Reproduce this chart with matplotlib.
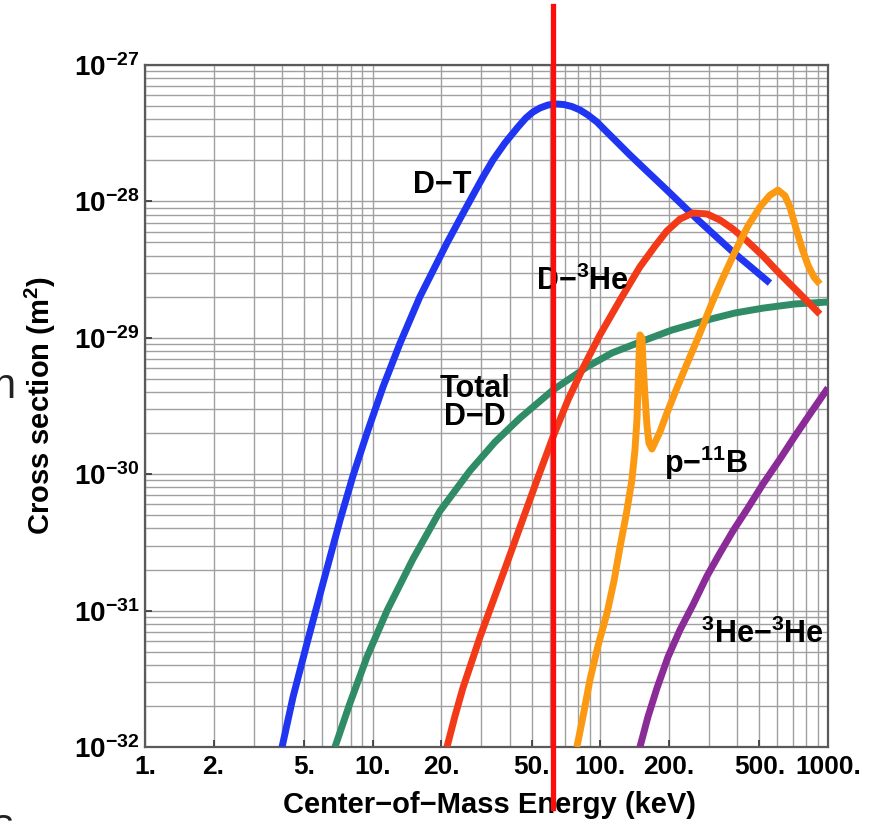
import matplotlib
matplotlib.use('Agg')
import matplotlib.pyplot as plt
from matplotlib.ticker import FixedLocator, FixedFormatter, NullFormatter

# cross sections: energy in keV, sigma in m^2
dt_energy = [4.00, 4.47, 5.15, 5.99, 7.19, 8.19, 9.44, 11.1, 13.2, 16.1, 21.2, 24.17, 27.57,
             30.51, 33.76, 38.11, 43.46, 47.12, 50.58, 54.30, 58.88, 63.83, 69.22, 75.03,
             81.36, 88.22, 96.66, 105.8, 115.9, 134.9, 161.8, 196.1, 265.6, 382.2, 555.7]
dt_sigma = [1.0e-32, 2.33e-32, 5.78e-32, 1.49e-31, 4.61e-31, 9.70e-31, 2.00e-30, 4.36e-30,
            9.16e-30, 1.99e-29, 4.95e-29, 7.43e-29, 1.11e-28, 1.51e-28, 2.01e-28, 2.68e-28,
            3.51e-28, 4.09e-28, 4.52e-28, 4.84e-28, 5.09e-28, 5.18e-28, 5.13e-28, 4.96e-28,
            4.68e-28, 4.30e-28, 3.82e-28, 3.28e-28, 2.82e-28, 2.19e-28, 1.64e-28, 1.21e-28,
            7.43e-29, 4.26e-29, 2.52e-29]

dd_energy = [6.83, 7.95, 9.44, 11.6, 15.03, 19.75, 26.75, 34.44, 44.36, 61.94, 87.3, 112.4,
             149.3, 206.3, 294, 390, 518, 715.5, 1000]
dd_sigma = [1.0e-32, 2.10e-32, 4.57e-32, 1.01e-31, 2.39e-31, 5.37e-31, 1.06e-30, 1.72e-30,
            2.58e-30, 4.14e-30, 6.11e-30, 7.74e-30, 9.31e-30, 1.14e-29, 1.35e-29, 1.52e-29,
            1.65e-29, 1.77e-29, 1.83e-29]

dhe3_energy = [21.2, 23.0, 24.9, 29.6, 38.9, 52.7, 61.9, 72.1, 83.9, 99.6, 122, 149, 174, 196,
               224, 255, 294, 335, 382, 441, 518, 615, 753, 921]
dhe3_sigma = [1.0e-32, 1.69e-32, 2.70e-32, 6.40e-32, 2.23e-31, 9.06e-31, 1.87e-30, 3.50e-30,
              6.01e-30, 1.05e-29, 1.89e-29, 3.30e-29, 4.71e-29, 6.07e-29, 7.43e-29, 8.22e-29,
              8.09e-29, 7.31e-29, 6.28e-29, 5.13e-29, 3.98e-29, 2.94e-29, 2.10e-29, 1.49e-29]

pb11_energy = [78.9, 84.7, 90.0, 97.6, 107, 115, 122, 130, 137.6, 141.9, 144.8, 146.3, 147.7,
               149.3, 152.3, 153.8, 157.0, 160.2, 163.5, 168.5, 182.7, 196.1, 217.0, 240.1,
               273.8, 309.2, 342.0, 390.0, 444.8, 502.3, 555.7, 602.5, 646.9, 680.3, 722.8,
               768.0, 816.0, 867.1, 921.2]
pb11_sigma = [1.0e-32, 1.81e-32, 3.10e-32, 5.50e-32, 9.59e-32, 1.67e-31, 2.92e-31, 5.10e-31,
              9.06e-31, 1.50e-30, 2.50e-30, 4.14e-30, 6.87e-30, 1.05e-29, 9.97e-30, 6.87e-30,
              3.81e-30, 2.30e-30, 1.69e-30, 1.53e-30, 2.04e-30, 2.81e-30, 4.29e-30, 6.43e-30,
              1.08e-29, 1.80e-29, 2.65e-29, 4.26e-29, 6.60e-29, 9.10e-29, 1.11e-28, 1.21e-28,
              1.10e-28, 9.10e-29, 6.38e-29, 4.55e-29, 3.42e-29, 2.79e-29, 2.48e-29]

he3he3_energy = [149.3, 161.8, 177.3, 198.2, 223.7, 255.1, 293.9, 335.2, 382.2, 444.8, 517.8,
                 615.0, 715.5, 849.9, 1000]
he3he3_sigma = [1.0e-32, 1.66e-32, 2.70e-32, 4.57e-32, 7.21e-32, 1.10e-31, 1.79e-31, 2.64e-31,
                3.83e-31, 5.65e-31, 8.47e-31, 1.29e-30, 1.90e-30, 2.90e-30, 4.29e-30]

marker_energy = 61.9

x_ticks = [1, 2, 5, 10, 20, 50, 100, 200, 500, 1000]
x_tick_labels = ['1.', '2.', '5.', '10.', '20.', '50.', '100.', '200.', '500.', '1000.']
y_ticks = [1e-32, 1e-31, 1e-30, 1e-29, 1e-28, 1e-27]
y_tick_labels = ['$10^{-32}$', '$10^{-31}$', '$10^{-30}$', '$10^{-29}$', '$10^{-28}$', '$10^{-27}$']

plt.rcParams['font.family'] = ['Liberation Sans', 'DejaVu Sans']
plt.rcParams['font.weight'] = 'bold'
plt.rcParams['axes.labelweight'] = 'bold'
plt.rcParams['mathtext.fontset'] = 'custom'
plt.rcParams['mathtext.bf'] = 'Liberation Sans:bold'
plt.rcParams['mathtext.rm'] = 'Liberation Sans:bold'
plt.rcParams['mathtext.default'] = 'bf'

fig = plt.figure(figsize=(8.84, 8.21), dpi=100)
ax = fig.add_axes([145 / 884, 1 - 747 / 821, 683 / 884, 682 / 821])

lw = 5
ax.plot(dt_energy, dt_sigma, color='#1f35f2', lw=lw, solid_capstyle='butt', zorder=3)
ax.plot(dd_energy, dd_sigma, color='#2f8c66', lw=lw, solid_capstyle='butt', zorder=3)
ax.plot(dhe3_energy, dhe3_sigma, color='#f23a18', lw=lw, solid_capstyle='butt', zorder=3)
ax.plot(pb11_energy, pb11_sigma, color='#fb9a12', lw=lw, solid_capstyle='butt', zorder=3)
ax.plot(he3he3_energy, he3he3_sigma, color='#8b2b98', lw=lw, solid_capstyle='butt', zorder=3)

ax.set_xscale('log')
ax.set_yscale('log')
ax.set_xlim(1, 1000)
ax.set_ylim(1e-32, 1e-27)

ax.xaxis.set_major_locator(FixedLocator(x_ticks))
ax.xaxis.set_major_formatter(FixedFormatter(x_tick_labels))
ax.xaxis.set_minor_formatter(NullFormatter())
ax.yaxis.set_major_locator(FixedLocator(y_ticks))
ax.yaxis.set_major_formatter(FixedFormatter(y_tick_labels))
ax.yaxis.set_minor_formatter(NullFormatter())

ax.grid(which='both', color='#a0a0a0', lw=1.0)
ax.tick_params(which='major', direction='in', length=5, width=1.2, color='#333333')
ax.tick_params(axis='x', which='major', labelsize=19, pad=6)
ax.tick_params(axis='y', which='major', labelsize=20, pad=4)
ax.tick_params(which='minor', length=0)
for s in ax.spines.values():
    s.set_color('#5a5a5a')
    s.set_linewidth(1.6)

ax.set_xlabel('Center\u2212of\u2212Mass Energy (keV)', fontsize=21, fontweight='bold')
ax.set_ylabel('Cross section (m$^{2}$)', fontsize=21, fontweight='bold')
ax.xaxis.set_label_coords(0.504, -0.064)
ax.yaxis.set_label_coords(-0.127, 0.5)

lab = dict(fontsize=22, fontweight='bold', ha='center', zorder=5)
ax.text(20.2, 1.32e-28, 'D\u2212T', va='center', **lab)
ax.text(83.4, 2.24e-29, 'D\u2212$^{3}$He', va='baseline', **lab)
ax.text(28.1, 3.33e-30, 'Total\nD\u2212D', va='center', multialignment='center',
        linespacing=0.88, **lab)
ax.text(290.9, 1.02e-30, 'p\u2212$^{11}$B', va='baseline', **lab)
ax.text(515.1, 5.79e-32, '$^{3}$He\u2212$^{3}$He', va='baseline', **lab)

ax.axvline(marker_energy, ymin=-0.0894, ymax=1.0865, color='#ff0d0d', lw=3.8,
           clip_on=False, zorder=10)

fig.text(15 / 884, 1 - 398 / 821, 'n', fontsize=30, fontweight='normal', ha='right',
         va='baseline', color='#222222')
fig.text(14 / 884, 1 - 838 / 821, 's', fontsize=30, fontweight='normal', ha='right',
         va='baseline', color='#222222')

fig.savefig('out.png', dpi=100)
